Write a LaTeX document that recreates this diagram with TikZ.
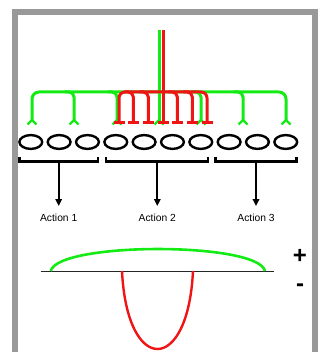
\documentclass[tikz,border=0pt]{standalone}
\usepackage{fontspec}
\setmainfont{Liberation Sans}
\usetikzlibrary{arrows.meta}
\definecolor{framegray}{RGB}{153,153,153}
\definecolor{pgreen}{RGB}{20,235,20}
\definecolor{pred}{RGB}{240,20,20}
\tikzset{
  grn/.style={draw=pgreen, line width=3pt, line cap=round},
  rd/.style={draw=pred, line width=3pt},
  cell/.style={draw=black, line width=2.4pt},
  brk/.style={draw=black, line width=2.4pt},
  stem/.style={draw=black, line width=1.8pt, -{Triangle[width=6.5pt,length=7pt]}},
  actlabel/.style={font=\fontsize{10.3}{12}\selectfont, inner sep=0pt, anchor=north},
  signlabel/.style={font=\fontsize{24}{24}\selectfont\bfseries, inner sep=0pt}
}
\begin{document}
\begin{tikzpicture}[x=1pt,y=-1pt]
\useasboundingbox (0,0) rectangle (323,352);
% grey frame, open at the bottom
\begin{scope}
  \clip (0,0) rectangle (323,352);
  \draw[framegray, line width=5.5pt] (15,12) rectangle (315.2,420);
\end{scope}

% green tree
\draw[grn, rounded corners=7pt] (32,120) -- (32,92) -- (286,92) -- (286,120);
\foreach \x in {74,117,201,243}
  \draw[grn, rounded corners=5pt] (\x-9,92) -- (\x,92) -- (\x,120);
\coordinate (gtop) at (159,30);
\coordinate (gbot) at (159,120);
\draw[grn, line cap=butt] (gtop) -- (gbot);
\foreach \x in {32,74,117,159,201,243,286}
  \draw[draw=pgreen, line width=2.2pt] (\x-4.5,124.5) -- (\x,120) -- (\x+4.5,124.5);

% red tree
\draw[rd, rounded corners=6pt] (119,122) -- (119,92) -- (207,92) -- (207,122);
\foreach \x in {133.3,148.3,177.3,192.3}
  \draw[rd, rounded corners=5pt] (\x-9,92) -- (\x,92) -- (\x,122);
\coordinate (rtop) at (163.3,30);
\coordinate (rbot) at (163.3,122);
\draw[rd] (rtop) -- (rbot);
\foreach \x in {119,133.3,148.3,163.3,177.3,192.3,207}
  \draw[rd, line width=2.6pt] (\x-5.5,122.5) -- (\x+5.5,122.5);

% row of cells
\foreach \i in {1,...,10} {
  \coordinate (e\i) at ({30.8+28.33*(\i-1)},142);
  \draw[cell] (e\i) ellipse [x radius=11.4pt, y radius=6.9pt];
}

% brackets grouping the cells
\draw[brk] (19.5,157) -- (19.5,161.7) -- (98,161.7) -- (98,157);
\draw[brk] (106.2,157) -- (106.2,161.7) -- (208,161.7) -- (208,157);
\draw[brk] (215.5,157) -- (215.5,161.7) -- (296.5,161.7) -- (296.5,157);
\coordinate (b1) at (58.7,161.7);
\coordinate (b2) at (157.3,161.7);
\coordinate (b3) at (256,161.7);

% actions
\node[actlabel] (a1) at (58.7,213.5) {Action 1};
\node[actlabel] (a2) at (157.3,213.5) {Action 2};
\node[actlabel] (a3) at (256,213.5) {Action 3};
\draw[stem, shorten >=7.5pt] (b1) -- (a1.north);
\draw[stem, shorten >=7.5pt] (b2) -- (a2.north);
\draw[stem, shorten >=7.5pt] (b3) -- (a3.north);

% response curves about the axis
\coordinate (axl) at (40.7,271);
\coordinate (axr) at (274.3,271);
\draw[black!85, line width=1pt] (axl) -- (axr);
\draw[draw=pgreen, line width=2.6pt] (50.7,271) .. controls (58,241.7) and (258,241.7) .. (265,271);
\draw[draw=pred, line width=2.4pt] (122,271) .. controls (127,375) and (188,375) .. (193,271);

\node[signlabel] (plus) at (300,256.5) {+};
\node[signlabel] (minus) at (300,287.5) {-};
\end{tikzpicture}
\end{document}
